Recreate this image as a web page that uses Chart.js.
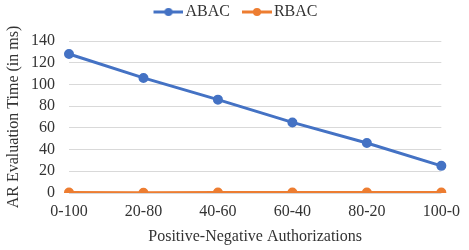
<!DOCTYPE html>
<html>
<head>
<meta charset="utf-8">
<script src="https://cdn.jsdelivr.net/npm/chart.js@4"></script>
<style>
  html, body { margin: 0; padding: 0; background: #fff; }
  #wrap { width: 469px; height: 250px; }
</style>
</head>
<body>
<div id="wrap"><canvas id="chart" width="469" height="250"></canvas></div>
<script>
const categories = ['0-100', '20-80', '40-60', '60-40', '80-20', '100-0'];
const abacTimes = [128, 106, 86, 65, 46, 25];
const rbacTimes = [0.5, 0.2, 0.5, 0.5, 0.5, 0.5];
const yTicks = [0, 20, 40, 60, 80, 100, 120, 140];

const FONT = "'Liberation Serif', 'Times New Roman', serif";
const TEXT = '#333333';

// legend marker: line with a dot in the middle, drawn on the right part of a wider image
function marker(color) {
  const c = document.createElement('canvas');
  c.width = 44; c.height = 10;
  const g = c.getContext('2d');
  g.strokeStyle = color;
  g.lineWidth = 3;
  g.beginPath(); g.moveTo(14, 5); g.lineTo(44, 5); g.stroke();
  g.fillStyle = color;
  g.beginPath(); g.arc(29, 5, 4, 0, Math.PI * 2); g.fill();
  return c;
}

// leave more room under the legend and nudge it to the right
const legendSpace = {
  id: 'legendSpace',
  beforeLayout(chart) {
    const lg = chart.legend;
    if (lg && !lg._spaced) {
      const fit = lg.fit.bind(lg);
      lg.fit = function () { fit(); this.height += 11; };
      lg._spaced = true;
    }
  },
  afterLayout(chart) {
    const lg = chart.legend;
    if (lg) { lg.left += 7; lg.right += 7; }
  },
};

const ctx = document.getElementById('chart').getContext('2d');
new Chart(ctx, {
  type: 'line',
  data: {
    labels: categories,
    datasets: [
      {
        label: 'ABAC',
        data: abacTimes,
        borderColor: '#4472C4',
        backgroundColor: '#4472C4',
        borderWidth: 3,
        pointRadius: 3.5,
        pointStyle: 'circle',
      },
      {
        label: 'RBAC',
        data: rbacTimes,
        borderColor: '#ED7D31',
        backgroundColor: '#ED7D31',
        borderWidth: 3,
        pointRadius: 3.5,
        pointStyle: 'circle',
      },
    ],
  },
  options: {
    responsive: false,
    animation: false,
    layout: { padding: { left: 0, right: 20, top: 0, bottom: 0 } },
    plugins: {
      legend: {
        display: true,
        position: 'top',
        labels: {
          usePointStyle: true,
          pointStyleWidth: 32,
          color: TEXT,
          font: { family: FONT, size: 16 },
          padding: 4,
          generateLabels: (chart) => chart.data.datasets.map((ds, i) => ({
            text: ds.label,
            pointStyle: marker(ds.borderColor),
            fillStyle: ds.borderColor,
            strokeStyle: ds.borderColor,
            lineWidth: 0,
            fontColor: TEXT,
            datasetIndex: i,
            hidden: false,
          })),
        },
      },
      tooltip: { enabled: false },
    },
    scales: {
      x: {
        offset: false,
        afterFit: (axis) => { axis.height = 57; },
        grid: { display: false, drawTicks: false },
        border: { display: false },
        ticks: { color: TEXT, font: { family: FONT, size: 16 }, padding: 9, maxRotation: 0, autoSkip: false },
        title: {
          display: true,
          text: 'Positive-Negative Authorizations',
          color: TEXT,
          font: { family: FONT, size: 16 },
          padding: { top: 4 },
        },
      },
      y: {
        min: 0,
        max: 140,
        afterBuildTicks: (axis) => { axis.ticks = yTicks.map(v => ({ value: v })); },
        afterFit: (axis) => { axis.width = 69; },
        grid: { color: '#D9D9D9', lineWidth: 1, drawTicks: false },
        border: { display: false },
        ticks: { color: TEXT, font: { family: FONT, size: 16 }, padding: 14, autoSkip: false },
        title: {
          display: true,
          text: 'AR Evaluation Time (in ms)',
          color: TEXT,
          font: { family: FONT, size: 16 },
          padding: { bottom: 2 },
        },
      },
    },
  },
  plugins: [legendSpace],
});
</script>
</body>
</html>
